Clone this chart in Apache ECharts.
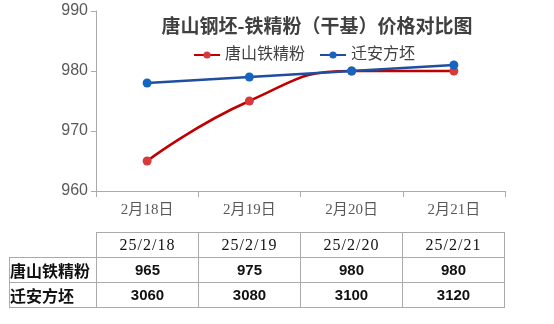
<!DOCTYPE html>
<html><head><meta charset="utf-8">
<script src="https://cdn.jsdelivr.net/npm/echarts@6/dist/echarts.min.js"></script>
<style>
html,body{margin:0;padding:0;background:#fff;}
#c{position:absolute;left:0;top:0;width:554px;height:324px;}
#t{position:absolute;left:9px;top:232px;border-collapse:collapse;font-family:"Liberation Serif","Noto Sans CJK SC",serif;font-size:16px;color:#111;}
#t td{border:1px solid #aaa;height:23px;padding:0;text-align:center;}
#t td.h{text-align:left;width:86px;font-weight:bold;font-family:"Noto Sans CJK SC";font-size:16px;}
#t td.v{width:101px;}
#t td.d{letter-spacing:1px;}
#t td.n{font-family:"Liberation Sans",Arial;font-weight:bold;font-size:15px;}
#t td.e{border-left:none;border-top:none;}
</style></head><body>
<div id="c"></div>
<table id="t"></table>
<script>
const categories = ['2月18日','2月19日','2月20日','2月21日'];
const dates = ['25/2/18','25/2/19','25/2/20','25/2/21'];
const ironName = '唐山铁精粉';
const billetName = '迁安方坯';
const ironValues = [965, 975, 980, 980];
const billetValues = [3060, 3080, 3100, 3120];
const yTicks = [960, 970, 980, 990];

const chart = echarts.init(document.getElementById('c'));
chart.setOption({
  animation:false,
  title:{text:'唐山钢坯-铁精粉（干基）价格对比图',left:312,textAlign:'center',top:11,
    textStyle:{fontFamily:'"Noto Sans CJK SC"',fontSize:19,fontWeight:'bold',color:'#404040'}},
  legend:{top:42,left:188,itemWidth:26,itemHeight:9,itemGap:14,
    textStyle:{fontFamily:'"Liberation Serif","Noto Sans CJK SC"',fontSize:16,color:'#404040'},
    data:[ironName,billetName]},
  grid:{left:96,right:49,top:11,bottom:133},
  xAxis:{type:'category',data:categories,boundaryGap:true,
    axisLine:{lineStyle:{color:'#aaa'}},
    axisTick:{show:true,length:6,lineStyle:{color:'#aaa'}},
    axisLabel:{margin:12,fontFamily:'"Liberation Serif","Noto Sans CJK SC"',fontSize:15,color:'#595959'}},
  yAxis:[{type:'value',min:yTicks[0],max:yTicks[yTicks.length-1],interval:10,
    axisLine:{show:true,lineStyle:{color:'#aaa'}},
    axisTick:{show:true,length:5,lineStyle:{color:'#aaa'}},
    splitLine:{show:false},
    axisLabel:{margin:8,fontFamily:'"Liberation Sans",Arial',fontSize:16,color:'#595959'}},
    {type:'value',min:2700,max:3300,show:false,splitLine:{show:false}}],
  series:[
    {name:ironName,type:'line',data:ironValues,smooth:true,symbol:'circle',symbolSize:9,
      lineStyle:{color:'#C00000',width:2.5},itemStyle:{color:'#D63A3A'}},
    {name:billetName,type:'line',yAxisIndex:1,data:billetValues,symbol:'circle',symbolSize:9,
      lineStyle:{color:'#1F4E9F',width:2.5},itemStyle:{color:'#1565C0'}}
  ]
});

const t = document.getElementById('t');
let html = '<tr><td class="h e" style="height:24px"></td>' + dates.map(d=>'<td class="v d">'+d+'</td>').join('') + '</tr>';
html += '<tr><td class="h">'+ironName+'</td>' + ironValues.map(v=>'<td class="v n">'+v+'</td>').join('') + '</tr>';
html += '<tr><td class="h">'+billetName+'</td>' + billetValues.map(v=>'<td class="v n">'+v+'</td>').join('') + '</tr>';
t.innerHTML = html;
</script>
</body></html>
